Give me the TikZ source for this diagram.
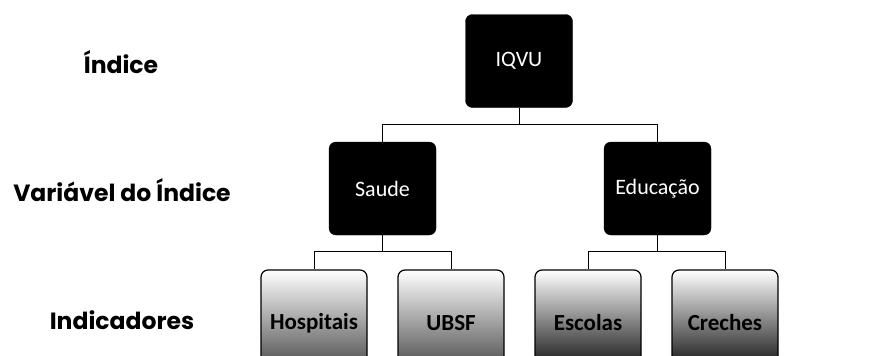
\documentclass[tikz,border=0pt]{standalone}
\usepackage{fontspec}
\setmainfont{Carlito}
\newfontfamily\levelfont{Poppins}
\usetikzlibrary{positioning}

\tikzset{
  darkbox/.style={draw=black, fill=black, rounded corners=7pt, text=white,
    minimum width=107pt, minimum height=93pt, font=\fontsize{22}{24}\selectfont},
  leafbox/.style={draw=black, line width=1.2pt, rounded corners=7pt,
    minimum width=106pt, minimum height=106pt, font=\bfseries\fontsize{23}{25}\selectfont},
  leaflight/.style={leafbox, top color=white, middle color=white, bottom color=black!75},
  leafdark/.style={leafbox, top color=white, middle color=black!40, bottom color=black},
  level/.style={font=\levelfont\bfseries\fontsize{23.5}{27}\selectfont},
  link/.style={draw=black, line width=0.8pt}
}

\begin{document}
\begin{tikzpicture}[x=1pt,y=-1pt,node distance=137pt]

\useasboundingbox (0,0) rectangle (895,356);
\clip (0,0) rectangle (895,356);

% levels
\node[level] (lvl0) at (121,62) {Índice};
\node[level] (lvl1) at (122,190) {Variável do Índice};
\node[level] (lvl2) at (122,320) {Indicadores};

% boxes
\node[darkbox] (IQVU) at (519,61) {IQVU};
\node[darkbox] (Saude) at (382.5,188.5) {Saude};
\node[darkbox] (Educ) at (657.5,188.5) {Educação};

\node[leaflight] (Hosp) at (314,323) {Hospitais};
\node[leaflight] (UBSF) [right of=Hosp] {UBSF};
\node[leafdark] (Esc) [right of=UBSF] {Escolas};
\node[leafdark] (Cre) [right of=Esc] {Creches};

% links
\draw[link] (IQVU.south) -- ++(0,17) -| (Saude.north);
\draw[link] (IQVU.south) -- ++(0,17) -| (Educ.north);
\draw[link] (Saude.south) -- ++(0,16) -| (Hosp.north);
\draw[link] (Saude.south) -- ++(0,16) -| (UBSF.north);
\draw[link] (Educ.south) -- ++(0,16) -| (Esc.north);
\draw[link] (Educ.south) -- ++(0,16) -| (Cre.north);

\end{tikzpicture}
\end{document}
